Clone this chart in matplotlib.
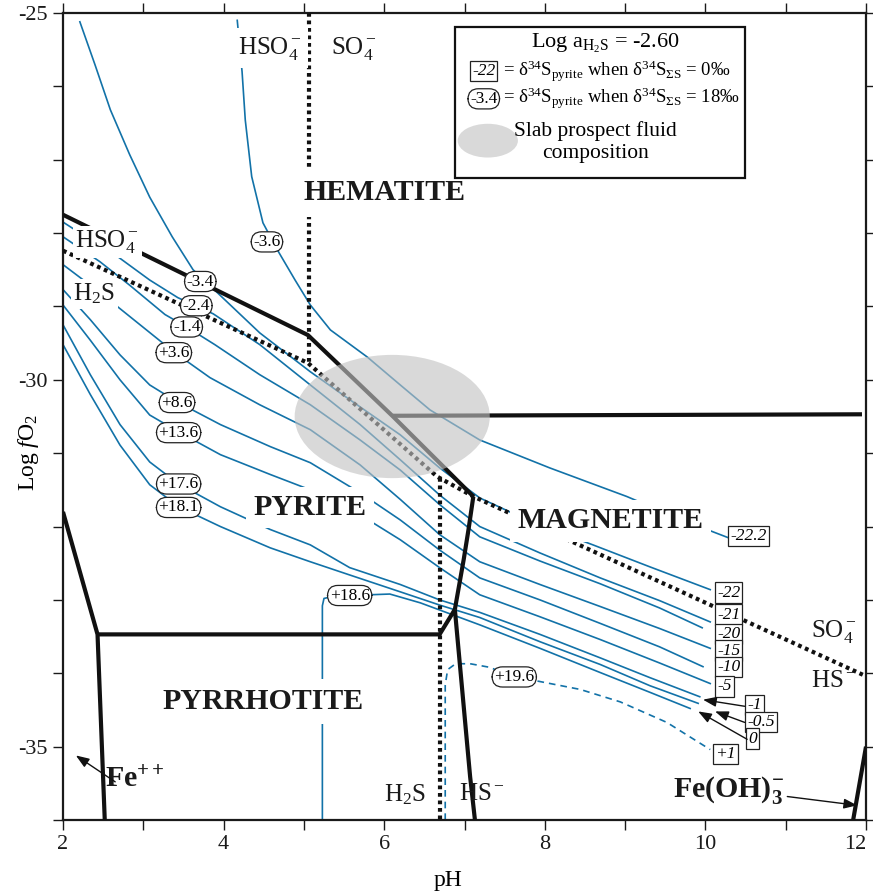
import matplotlib
matplotlib.use("Agg")
import matplotlib.pyplot as plt
from matplotlib.patches import Ellipse, Rectangle

plt.rcParams['font.family'] = ['Liberation Serif', 'DejaVu Serif']
plt.rcParams['mathtext.fontset'] = 'custom'
plt.rcParams['mathtext.rm'] = 'Liberation Serif'
plt.rcParams['mathtext.it'] = 'Liberation Serif:italic'
plt.rcParams['mathtext.bf'] = 'Liberation Serif:bold'

BLUE = '#1272a8'

# ---------------- data: phase boundaries (pH, log fO2) ----------------
py_hem_ph = [2.00, 5.05, 6.11, 7.11]
py_hem_f = [-27.75, -29.39, -30.50, -31.59]
hem_mag_ph = [6.11, 11.95]
hem_mag_f = [-30.49, -30.47]
py_mag_ph = [7.11, 7.05, 6.99, 6.88]
py_mag_f = [-31.59, -32.04, -32.45, -33.13]
py_po_ph = [6.88, 6.69, 2.43]
py_po_f = [-33.13, -33.47, -33.47]
mag_po_ph = [6.88, 7.07, 7.13]
mag_po_f = [-33.13, -35.41, -36.00]
fe_ph = [2.00, 2.43, 2.52]
fe_f = [-31.80, -33.47, -36.00]
feoh_ph = [11.84, 12.00]
feoh_f = [-36.00, -35.00]

# sulfur species boundaries (dotted)
s_diag_ph = [2.00, 5.05, 6.66, 7.11, 11.96]
s_diag_f = [-28.24, -29.77, -31.32, -31.59, -34.02]
s_v1_ph = [5.06, 5.06]
s_v1_f = [-25.00, -29.77]
s_v2_ph = [6.69, 6.69]
s_v2_f = [-31.34, -36.00]

# ---------------- isotope contours ----------------
cA_ph = [4.17, 4.23, 4.27, 4.35, 4.49, 4.67, 4.89, 5.08, 5.33, 5.79, 6.20, 6.57, 7.19, 8.06, 9.02, 9.56, 10.09, 10.28]
cA_f = [-25.10, -25.80, -26.46, -27.23, -27.86, -28.23, -28.64, -28.98, -29.32, -29.69, -30.07, -30.41, -30.82, -31.20, -31.59, -31.84, -32.07, -32.15]
cB_ph = [2.21, 2.40, 2.59, 2.83, 3.08, 3.36, 3.62, 3.92, 4.45, 5.08, 5.57, 6.20, 6.69, 7.19, 7.82, 8.60, 9.31, 10.06]
cB_f = [-25.12, -25.71, -26.32, -26.93, -27.51, -28.05, -28.50, -28.81, -29.36, -29.89, -30.27, -30.75, -31.20, -31.61, -31.93, -32.25, -32.55, -32.86]
cC_ph = [2.00, 2.34, 2.68, 3.08, 3.43, 3.87, 4.45, 5.08, 5.70, 6.20, 6.69, 7.19, 7.94, 8.69, 9.43, 10.06]
cC_f = [-27.85, -28.09, -28.32, -28.64, -28.88, -29.10, -29.52, -30.07, -30.61, -31.09, -31.57, -32.00, -32.36, -32.70, -33.01, -33.30]
cD_ph = [2.00, 2.46, 2.83, 3.27, 3.54, 3.89, 4.45, 5.08, 5.70, 6.20, 6.69, 7.19, 7.94, 8.69, 9.43, 9.96]
cD_f = [-28.05, -28.39, -28.71, -29.11, -29.28, -29.52, -29.93, -30.34, -30.82, -31.23, -31.70, -32.14, -32.47, -32.78, -33.11, -33.38]
cE_ph = [2.00, 2.46, 2.96, 3.38, 3.83, 4.45, 5.08, 5.70, 6.20, 6.69, 7.19, 7.94, 8.69, 9.43, 10.06]
cE_f = [-28.43, -28.81, -29.25, -29.62, -29.97, -30.34, -30.68, -31.16, -31.63, -32.11, -32.48, -32.79, -33.09, -33.39, -33.66]
cF_ph = [2.00, 2.34, 2.71, 3.08, 3.42, 3.96, 4.58, 5.08, 5.70, 6.20, 6.69, 7.19, 7.94, 8.69, 9.43, 9.97]
cF_f = [-28.77, -29.18, -29.66, -30.07, -30.30, -30.61, -30.91, -31.13, -31.54, -31.91, -32.32, -32.70, -33.00, -33.32, -33.64, -33.91]
cG_ph = [2.00, 2.34, 2.71, 3.08, 3.44, 3.96, 4.58, 5.08, 5.70, 6.20, 6.69, 7.19, 7.94, 8.69, 9.43, 10.06]
cG_f = [-28.98, -29.46, -30.00, -30.48, -30.71, -31.02, -31.29, -31.50, -31.84, -32.18, -32.56, -32.93, -33.23, -33.54, -33.86, -34.14]
cH_ph = [2.00, 2.34, 2.71, 3.08, 3.44, 3.96, 4.58, 5.08, 5.57, 6.20, 6.69, 7.19, 7.94, 8.69, 9.31, 9.93]
cH_f = [-29.25, -29.93, -30.61, -31.12, -31.42, -31.73, -32.04, -32.25, -32.56, -32.79, -33.00, -33.17, -33.47, -33.79, -34.06, -34.32]
cI_ph = [2.00, 2.34, 2.71, 3.08, 3.44, 3.96, 4.58, 5.08, 5.57, 6.20, 6.69, 7.19, 7.94, 8.69, 9.31, 9.91]
cI_f = [-29.52, -30.20, -30.89, -31.43, -31.73, -32.00, -32.29, -32.48, -32.66, -32.89, -33.07, -33.24, -33.57, -33.88, -34.17, -34.41]
cJ_ph = [5.23, 5.23, 5.25, 5.33, 5.57, 6.07, 6.45, 6.82, 7.19, 7.94, 8.69, 9.31, 9.81]
cJ_f = [-36.00, -33.08, -32.98, -32.96, -32.94, -32.92, -33.04, -33.19, -33.34, -33.66, -33.99, -34.26, -34.48]
cK_ph = [6.76, 6.76, 6.79, 6.89, 7.07, 7.32, 7.59, 7.88, 8.44, 8.94, 9.52, 10.06]
cK_f = [-36.00, -34.16, -33.95, -33.87, -33.87, -33.92, -34.05, -34.10, -34.22, -34.39, -34.67, -35.04]

# labels: delta34S pyrite for delta34S_sum = 18 permil (ovals)
oval_text = ['-3.6', '-3.4', '-2.4', '-1.4', '+3.6', '+8.6', '+13.6', '+17.6', '+18.1', '+18.6', '+19.6']
oval_ph = [4.54, 3.71, 3.66, 3.54, 3.38, 3.42, 3.44, 3.44, 3.44, 5.57, 7.62]
oval_f = [-28.12, -28.66, -28.99, -29.28, -29.63, -30.31, -30.72, -31.42, -31.74, -32.94, -34.05]
# labels for delta34S_sum = 0 permil (boxes)
box_text = ['-22.2', '-22', '-21', '-20', '-15', '-10', '-5', '-1', '-0.5', '0', '+1']
box_ph = [10.54, 10.29, 10.29, 10.29, 10.29, 10.29, 10.24, 10.61, 10.69, 10.59, 10.25]
box_f = [-32.13, -32.90, -33.20, -33.46, -33.69, -33.92, -34.18, -34.43, -34.66, -34.89, -35.10]
# arrows (tail -> head)
arr_tail_ph = [10.49, 10.49, 10.52, 2.65, 11.02]
arr_tail_f = [-34.45, -34.67, -34.90, -35.48, -35.68]
arr_head_ph = [9.97, 10.12, 9.91, 2.16, 11.89]
arr_head_f = [-34.36, -34.52, -34.52, -35.12, -35.80]

# fluid composition ellipse
fluid_ph, fluid_f, fluid_w, fluid_h = 6.10, -30.50, 2.43, 1.68

xticks = list(range(2, 13))
xticklabels = ['2', '', '4', '', '6', '', '8', '', '10', '', '12']
yticks = list(range(-36, -24))
yticklabels = ['', '-35', '', '', '', '', '-30', '', '', '', '', '-25']

# ---------------- figure ----------------
fig = plt.figure(figsize=(8.73, 8.92), dpi=100)
ax = fig.add_axes([63 / 873, 1 - 820 / 892, 803 / 873, 807 / 892])
ax.set_xlim(2, 12)
ax.set_ylim(-36, -25)

# contours
for xs, ys in [(cA_ph, cA_f), (cB_ph, cB_f), (cC_ph, cC_f), (cD_ph, cD_f), (cE_ph, cE_f),
               (cF_ph, cF_f), (cG_ph, cG_f), (cH_ph, cH_f), (cI_ph, cI_f), (cJ_ph, cJ_f)]:
    ax.plot(xs, ys, color=BLUE, lw=1.2, zorder=2, solid_joinstyle='round')
ax.plot(cK_ph, cK_f, color=BLUE, lw=1.2, ls=(0, (4, 3)), zorder=2)

# dotted sulfur boundaries
for xs, ys in [(s_diag_ph, s_diag_f), (s_v1_ph, s_v1_f), (s_v2_ph, s_v2_f)]:
    ax.plot(xs, ys, color='#111111', lw=3.0, ls=(0, (0.9, 0.9)), dash_capstyle='butt', zorder=3)

# solid phase boundaries
for xs, ys in [(py_hem_ph, py_hem_f), (hem_mag_ph, hem_mag_f), (py_mag_ph, py_mag_f),
               (py_po_ph, py_po_f), (mag_po_ph, mag_po_f), (fe_ph, fe_f), (feoh_ph, feoh_f)]:
    ax.plot(xs, ys, color='#111111', lw=3.0, zorder=3, solid_joinstyle='miter', solid_capstyle='butt')

ax.add_patch(Ellipse((fluid_ph, fluid_f), fluid_w, fluid_h, facecolor='#c2c2c2', edgecolor='none',
                     alpha=0.62, zorder=4))

# contour labels
for t, x, y in zip(oval_text, oval_ph, oval_f):
    ax.text(x, y, t, fontsize=12.5, ha='center', va='center', zorder=6,
            bbox=dict(boxstyle='round,pad=0.12,rounding_size=0.6', fc='white', ec='#222222', lw=0.9))
for t, x, y in zip(box_text, box_ph, box_f):
    ax.text(x, y, t, fontsize=12.5, style='italic', ha='center', va='center', zorder=6,
            bbox=dict(boxstyle='square,pad=0.12', fc='white', ec='#222222', lw=0.9))
for tx, ty, hx, hy in zip(arr_tail_ph, arr_tail_f, arr_head_ph, arr_head_f):
    ax.annotate('', xy=(hx, hy), xytext=(tx, ty), zorder=6,
                arrowprops=dict(arrowstyle='-|>,head_length=0.8,head_width=0.3', color='#111111',
                                lw=1.0, shrinkA=0, shrinkB=0))

# field / species labels
wb = dict(boxstyle='square,pad=0.25', fc='white', ec='none')
big = dict(fontsize=21.5, fontweight='bold', ha='center', va='center', zorder=5, color='#1a1a1a')
ax.text(6.00, -27.45, 'HEMATITE', bbox=dict(boxstyle='square,pad=0.35', fc='white', ec='none'), **big)
ax.text(5.08, -31.74, 'PYRITE', bbox=wb, **big)
ax.text(8.82, -31.92, 'MAGNETITE', bbox=wb, **big)
ax.text(4.49, -34.39, 'PYRRHOTITE', bbox=dict(boxstyle='square,pad=0.3', fc='white', ec='none'), **big)
ax.text(2.90, -35.45, r'Fe$^{\mathbf{++}}$', fontsize=21.5, fontweight='bold', ha='center', va='center',
        zorder=5, color='#1a1a1a')
ax.text(10.29, -35.59, r'Fe(OH)$_{\mathbf{3}}^{\mathbf{-}}$', fontsize=21.5, fontweight='bold',
        ha='center', va='center', zorder=5, color='#1a1a1a')

sp = dict(fontsize=18, ha='center', va='center', zorder=5, color='#1a1a1a')
ax.text(4.58, -25.48, r'HSO$_4^-$', bbox=wb, **sp)
ax.text(5.62, -25.48, r'SO$_4^-$', **sp)
ax.text(2.55, -28.12, r'HSO$_4^-$', bbox=dict(boxstyle='square,pad=0.1', fc='white', ec='none'), **sp)
ax.text(2.39, -28.83, r'H$_2$S', bbox=dict(boxstyle='square,pad=0.1', fc='white', ec='none'), **sp)
ax.text(11.60, -33.43, r'SO$_4^-$', **sp)
ax.text(11.60, -34.11, r'HS$^-$', **sp)
ax.text(6.26, -35.65, r'H$_2$S', **sp)
ax.text(7.21, -35.65, r'HS$^-$', **sp)

# legend box
ax.add_patch(Rectangle((6.88, -27.25), 3.61, 2.06, facecolor='white', edgecolor='#111111', lw=1.6, zorder=7))
ax.text(8.75, -25.41, r'Log $\mathrm{a}_{\mathrm{H_2S}}$ = -2.60', fontsize=16, ha='center', va='center', zorder=8)
ax.text(7.24, -25.79, '-22', fontsize=12.5, style='italic', ha='center', va='center', zorder=8,
        bbox=dict(boxstyle='square,pad=0.12', fc='white', ec='#222222', lw=0.9))
ax.text(7.48, -25.79, r'= δ$^{34}$S$_{\mathrm{pyrite}}$ when δ$^{34}$S$_{\Sigma\mathrm{S}}$ = 0‰', fontsize=13.5,
        ha='left', va='center', zorder=8)
ax.text(7.24, -26.17, '-3.4', fontsize=12.5, ha='center', va='center', zorder=8,
        bbox=dict(boxstyle='round,pad=0.12,rounding_size=0.6', fc='white', ec='#222222', lw=0.9))
ax.text(7.48, -26.17, r'= δ$^{34}$S$_{\mathrm{pyrite}}$ when δ$^{34}$S$_{\Sigma\mathrm{S}}$ = 18‰', fontsize=13.5,
        ha='left', va='center', zorder=8)
ax.add_patch(Ellipse((7.29, -26.74), 0.75, 0.46, facecolor='#d9d9d9', edgecolor='none', zorder=8))
ax.text(8.63, -26.76, 'Slab prospect fluid\ncomposition', fontsize=15.5, ha='center', va='center',
        linespacing=1.25, zorder=8)

# axes styling
ax.set_xticks(xticks)
ax.set_xticklabels(xticklabels)
ax.set_yticks(yticks)
ax.set_yticklabels(yticklabels)
ax.tick_params(direction='out', length=7, width=1.0, labelsize=16, colors='#1a1a1a',
               top=True, right=True, pad=4)
ax.get_xticklabels()[-1].set_horizontalalignment('right')
for s in ax.spines.values():
    s.set_linewidth(1.6)
    s.set_color('#1a1a1a')
ax.set_xlabel('pH', fontsize=17)
ax.set_ylabel(r'Log $f$O$_2$', fontsize=17)
ax.xaxis.set_label_coords(0.48, -0.062)
ax.yaxis.set_label_coords(-0.028, 0.455)

fig.savefig('out.png', dpi=100)
